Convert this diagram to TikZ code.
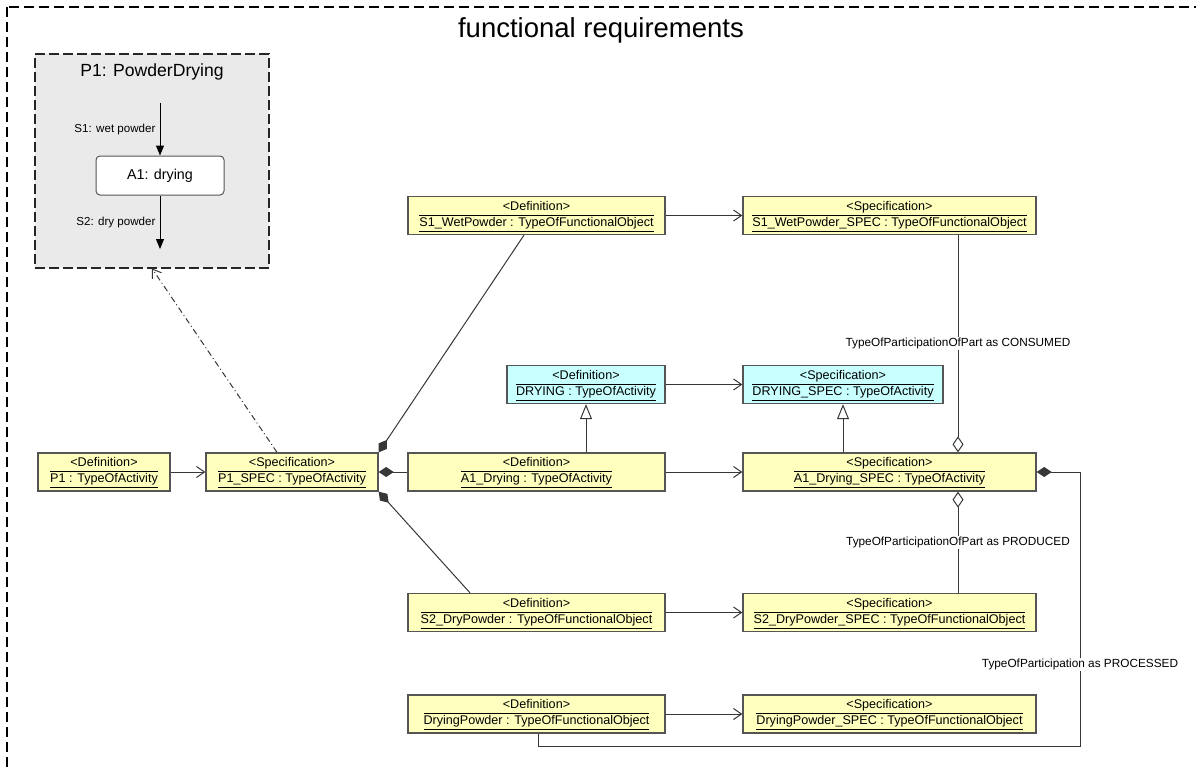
\documentclass[tikz,border=0pt]{standalone}
\usepackage{fontspec}
\setmainfont{Liberation Sans}
\usetikzlibrary{arrows.meta}

\definecolor{objyellow}{RGB}{255,255,190}
\definecolor{objcyan}{RGB}{200,255,255}
\definecolor{objborder}{RGB}{85,85,85}
\definecolor{procgrey}{RGB}{234,234,234}
\definecolor{linkgrey}{RGB}{55,55,55}

% stereotype and name, both underlined as wide as the longer line
\newcommand{\umlobj}[2]{{\renewcommand{\arraystretch}{1.08}\setlength{\arrayrulewidth}{0.8pt}%
  \begin{tabular}{@{}c@{}}#1\\\hline #2\\\hline\end{tabular}}}

\tikzset{obj/.style={draw=objborder, line width=1.3pt, fill=objyellow, minimum height=38pt, inner sep=0pt, font=\fontsize{12.6}{14}\selectfont}}
\tikzset{actobj/.style={obj, fill=objcyan}}
\tikzset{link/.style={line width=1pt, color=linkgrey}}
\tikzset{flow/.style={link, -{Straight Barb[length=8pt, width=11pt]}}}
\tikzset{gen/.style={link, -{Triangle[open, length=15pt, width=12pt, fill=white]}}}
\tikzset{part/.style={link, {Diamond[open, length=16pt, width=11pt, fill=white]}-}}
\tikzset{whole/.style={link, {Diamond[length=15pt, width=10pt]}-}}
\tikzset{partlabel/.style={fill=white, inner sep=1pt, text=black, font=\fontsize{11.8}{13}\selectfont}}
\tikzset{stream/.style={line width=1pt, color=black, -{Triangle[length=10pt, width=8pt]}}}

\begin{document}
\begin{tikzpicture}[x=1pt, y=-1pt]
    \useasboundingbox (0,0) rectangle (1196,769);
    \clip (0,0) rectangle (1196,769);

    \fill[white] (0,0) rectangle (1196,769);
    \draw[line width=1.3pt, dash pattern=on 10pt off 5pt] (7,7) rectangle (1230,800);
    \node[font=\fontsize{27.5}{32}\selectfont] (title) at (601,30) {functional requirements};

    % process block
    \node[draw=black!85, line width=2pt, dash pattern=on 10pt off 4pt, fill=procgrey, minimum width=234pt, minimum height=214pt] (P1box) at (152,160.5) {};
    \node[font=\fontsize{17.6}{20}\selectfont] (P1title) at (152,72) {P1: PowderDrying};
    \node[draw=objborder, line width=1pt, fill=white, rounded corners=4pt, minimum width=128pt, minimum height=39pt, font=\fontsize{14.3}{16}\selectfont] (A1) at (160,175.5) {A1: drying};
    \coordinate (S1in) at (160,103);
    \coordinate (S2out) at (160,249);
    \draw[stream] (S1in) -- node[left, inner sep=4pt, font=\fontsize{11.6}{13}\selectfont] {S1: wet powder} (A1);
    \draw[stream] (A1) -- node[left, inner sep=4pt, font=\fontsize{11.6}{13}\selectfont] {S2: dry powder} (S2out);

    % definitions and specifications
    \node[obj, minimum width=132pt] (P1def) at (104,472) {\umlobj{<Definition>}{P1 : TypeOfActivity}};
    \node[obj, minimum width=172pt] (P1spec) at (292,472) {\umlobj{<Specification>}{P1\_SPEC : TypeOfActivity}};
    \node[obj, minimum width=257pt] (S1def) at (536.5,215.5) {\umlobj{<Definition>}{S1\_WetPowder : TypeOfFunctionalObject}};
    \node[obj, minimum width=293pt] (S1spec) at (889.5,215.5) {\umlobj{<Specification>}{S1\_WetPowder\_SPEC : TypeOfFunctionalObject}};
    \node[actobj, minimum width=158pt] (DRYdef) at (586,384.5) {\umlobj{<Definition>}{DRYING : TypeOfActivity}};
    \node[actobj, minimum width=200pt] (DRYspec) at (843,384.5) {\umlobj{<Specification>}{DRYING\_SPEC : TypeOfActivity}};
    \node[obj, minimum width=257pt] (A1def) at (536.5,472) {\umlobj{<Definition>}{A1\_Drying : TypeOfActivity}};
    \node[obj, minimum width=293pt] (A1spec) at (889.5,472) {\umlobj{<Specification>}{A1\_Drying\_SPEC : TypeOfActivity}};
    \node[obj, minimum width=257pt] (S2def) at (536.5,612.5) {\umlobj{<Definition>}{S2\_DryPowder : TypeOfFunctionalObject}};
    \node[obj, minimum width=293pt] (S2spec) at (889.5,612.5) {\umlobj{<Specification>}{S2\_DryPowder\_SPEC : TypeOfFunctionalObject}};
    \node[obj, minimum width=257pt] (DPdef) at (536.5,714) {\umlobj{<Definition>}{DryingPowder : TypeOfFunctionalObject}};
    \node[obj, minimum width=293pt] (DPspec) at (889.5,714) {\umlobj{<Specification>}{DryingPowder\_SPEC : TypeOfFunctionalObject}};

    \draw[flow] (P1def) -- (P1spec);
    \draw[flow] (S1def) -- (S1spec);
    \draw[flow] (DRYdef) -- (DRYspec);
    \draw[flow] (A1def) -- (A1spec);
    \draw[flow] (S2def) -- (S2spec);
    \draw[flow] (DPdef) -- (DPspec);

    \draw[link, dash pattern=on 6pt off 3pt on 1pt off 3pt, -{Straight Barb[length=8pt, width=11pt]}] ([xshift=-15pt]P1spec.north) -- (P1box.south);

    % composition of the process
    \draw[whole] (P1spec.east) -- (A1def.west);
    \draw[whole] (P1spec.north east) -- ([xshift=-12.5pt]S1def.south);
    \draw[whole] (P1spec.south east) -- ([xshift=-66.5pt]S2def.north);

    \draw[gen] (A1def.north -| DRYdef.south) -- (DRYdef.south);
    \draw[gen] (A1spec.north -| DRYspec.south) -- (DRYspec.south);

    % participations
    \coordinate (partx) at (958,0);
    \coordinate (procx) at (1080,746);
    \draw[part] (A1spec.north -| partx) -- node[partlabel] {TypeOfParticipationOfPart as CONSUMED} (S1spec.south -| partx);
    \draw[part] (A1spec.south -| partx) -- node[partlabel] {TypeOfParticipationOfPart as PRODUCED} (S2spec.north -| partx);
    \draw[whole] (A1spec.east) -| node[pos=0.852, partlabel] {TypeOfParticipation as PROCESSED} (procx) -| ([xshift=1.5pt]DPdef.south);

\end{tikzpicture}
\end{document}
